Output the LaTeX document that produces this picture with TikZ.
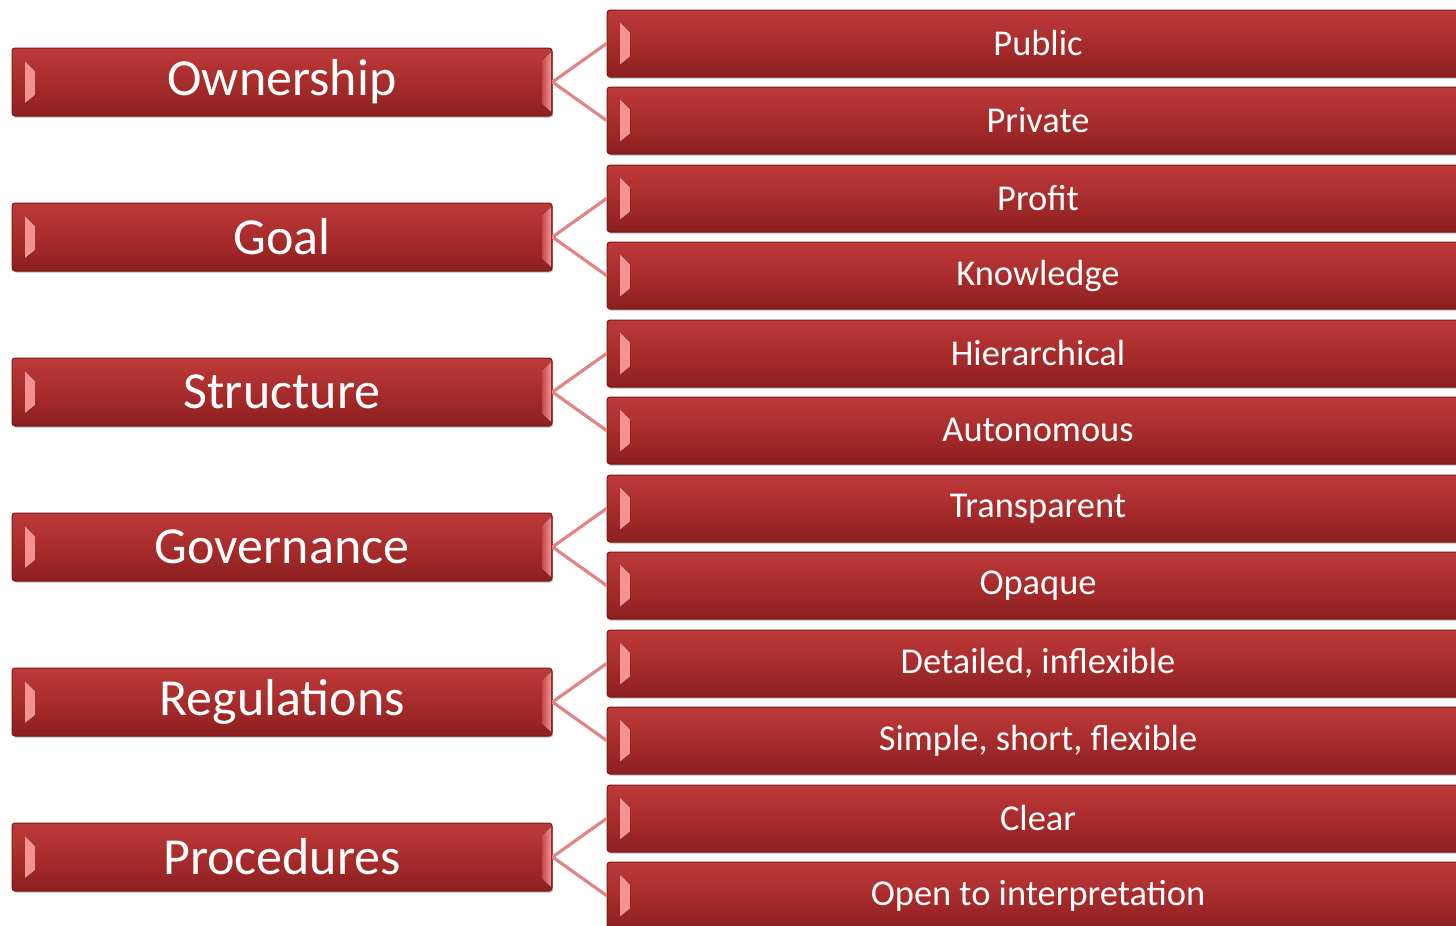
\documentclass[tikz,border=0pt]{standalone}
\usepackage{fontspec}
\setmainfont{Carlito}
\usetikzlibrary{shadows}
\definecolor{boxtop}{HTML}{BE3A3A}
\definecolor{boxmid}{HTML}{A82C2C}
\definecolor{boxbot}{HTML}{8C1F1F}
\definecolor{boxline}{HTML}{7A1A1A}
\definecolor{connc}{HTML}{E08585}
\definecolor{bevlight}{HTML}{F49494}
\definecolor{bevdark}{HTML}{C44A4A}
\tikzset{
  redbox/.style={draw=boxline, line width=0.5pt, rounded corners=1.5pt,
    top color=boxtop, bottom color=boxbot, middle color=boxmid,
    text=white, inner sep=0pt,
    drop shadow={shadow xshift=0.6pt, shadow yshift=-0.8pt, opacity=0.25, fill=black}},
  leftbox/.style={redbox, minimum width=270pt, minimum height=34pt, font=\fontsize{26}{30}\selectfont,
    path picture={
      \fill[sharp corners, left color=bevlight, right color=bevdark]
        ([xshift=6.5pt,yshift=10.5pt]path picture bounding box.west) -- ++(5pt,-5pt) -- ++(0,-12pt) -- ++(-5pt,-4pt) -- cycle;
      \fill[sharp corners, left color=bevdark, right color=bevlight]
        ([xshift=-0.4pt,yshift=15pt]path picture bounding box.east) -- ++(-4.5pt,-4pt) -- ++(0,-22pt) -- ++(4.5pt,-4pt) -- cycle;
    }},
  rightbox/.style={redbox, minimum width=431pt, minimum height=33.5pt, font=\fontsize{18.2}{22}\selectfont,
    path picture={
      \fill[sharp corners, left color=bevlight, right color=bevdark]
        ([xshift=6.5pt,yshift=10.5pt]path picture bounding box.west) -- ++(5pt,-5pt) -- ++(0,-12pt) -- ++(-5pt,-4pt) -- cycle;
    }},
  conn/.style={draw=connc, line width=1.6pt}
}
\begin{document}
\begin{tikzpicture}[x=0.5pt,y=-0.5pt]
\clip (0,0) rectangle (1456,926);
\useasboundingbox (0,0) rectangle (1456,926);
\foreach \i/\lab/\ra/\rb in {0/Ownership/Public/Private, 1/Goal/Profit/Knowledge, 2/Structure/Hierarchical/Autonomous, 3/Governance/Transparent/Opaque, 4/Regulations/{Detailed, inflexible}/{Simple, short, flexible}, 5/Procedures/Clear/Open to interpretation}{
  \pgfmathsetmacro{\cy}{82+155*\i}
  \node[rightbox] (ra\i) at (1038,\cy-38.5) {\raisebox{1pt}{\ra}};
  \node[rightbox] (rb\i) at (1038,\cy+38.5) {\raisebox{1pt}{\rb}};
  \node[leftbox] (l\i) at (282,\cy) {\raisebox{0.5pt}{\lab}};
  \draw[conn] (l\i.east) -- (ra\i.west);
  \draw[conn] (l\i.east) -- (rb\i.west);
}
\end{tikzpicture}
\end{document}
